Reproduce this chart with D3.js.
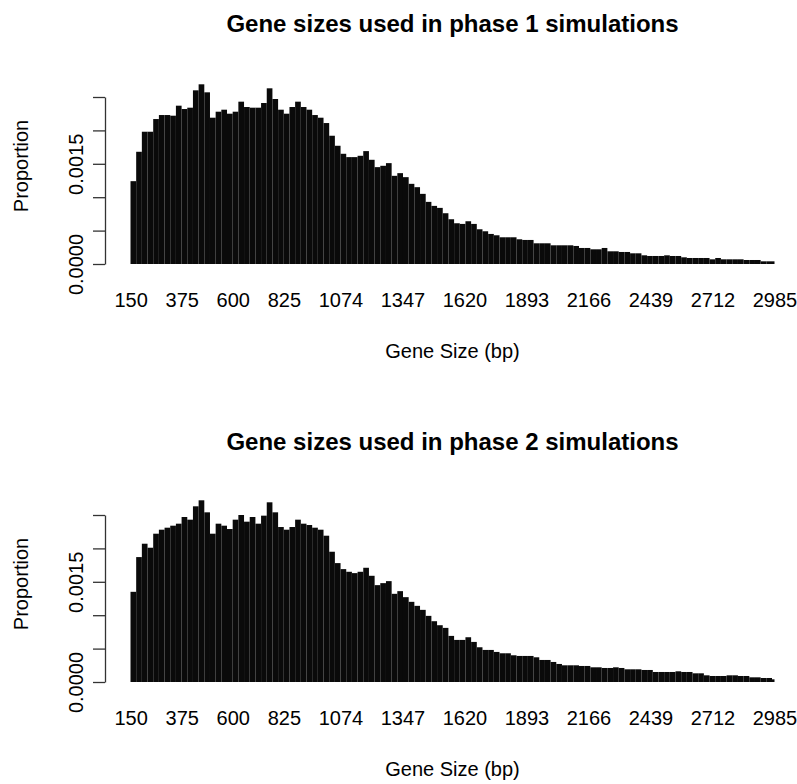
<!doctype html>
<html lang="en">
<head>
<meta charset="utf-8">
<title>Gene sizes used in phase simulations</title>
<script src="https://d3js.org/d3.v7.min.js"></script>
<style>
  body { margin: 0; background: #fff; }
  text { font-family: "Liberation Sans", Arial, Helvetica, sans-serif; fill: #000; }
</style>
</head>
<body>
<script>

var width  = 797;
var height = 784;

// gene sizes binned in 25 bp steps, starting at 150 bp (last bin 2975-2985)
var binStart = 150;
var binWidth = 25;
var lastSize = 2985;

var phase1 = [
  0.00124,0.00168,0.00198,0.00198,0.00217,0.00223,0.00223,0.00222,0.00237,0.00232,
  0.00234,0.00260,0.00269,0.00257,0.00219,0.00228,0.00231,0.00225,0.00228,0.00243,
  0.00235,0.00234,0.00234,0.00241,0.00263,0.00247,0.00231,0.00225,0.00235,0.00243,
  0.00235,0.00231,0.00223,0.00219,0.00211,0.00192,0.00177,0.00165,
  0.00160,0.00160,0.00162,0.00169,0.00156,0.00145,0.00147,0.00151,0.00132,0.00136,
  0.00130,0.00120,0.00115,0.00105,0.00093,0.00087,0.00084,0.00076,0.00067,0.00061,
  0.00060,0.00064,0.00060,0.00052,0.00049,0.00045,0.00043,0.00040,0.00040,0.00040,
  0.00037,0.00036,0.00036,0.00031,0.00031,0.00031,0.00028,
  0.00028,0.00028,0.00028,0.00027,0.00024,0.00024,0.00022,0.00022,0.00024,0.00019,
  0.00019,0.00018,0.00018,0.00016,0.00016,0.00013,0.00012,0.00012,0.00012,0.00013,
  0.00012,0.00012,0.00010,0.00009,0.00009,0.00009,0.00009,0.00007,0.00009,0.00007,
  0.00007,0.00007,0.00007,0.00006,0.00006,0.00006,0.00004,0.00004,0.00004
];

var phase2 = [
  0.00135,0.00187,0.00207,0.00201,0.00222,0.00228,0.00231,0.00234,0.00237,0.00247,
  0.00243,0.00263,0.00272,0.00254,0.00222,0.00237,0.00234,0.00229,0.00243,0.00250,
  0.00240,0.00247,0.00237,0.00249,0.00269,0.00254,0.00232,0.00228,0.00232,0.00243,
  0.00237,0.00235,0.00231,0.00228,0.00219,0.00195,0.00178,0.00169,
  0.00165,0.00163,0.00165,0.00171,0.00159,0.00145,0.00148,0.00151,0.00132,0.00136,
  0.00127,0.00120,0.00114,0.00108,0.00099,0.00091,0.00085,0.00081,0.00069,0.00063,
  0.00063,0.00067,0.00060,0.00052,0.00048,0.00048,0.00045,0.00043,0.00043,0.00040,
  0.00039,0.00039,0.00039,0.00037,0.00033,0.00033,0.00030,
  0.00027,0.00025,0.00025,0.00025,0.00024,0.00024,0.00022,0.00022,0.00021,0.00021,
  0.00022,0.00021,0.00019,0.00019,0.00019,0.00018,0.00018,0.00015,0.00015,0.00015,
  0.00015,0.00016,0.00015,0.00015,0.00013,0.00013,0.00010,0.00009,0.00009,0.00009,
  0.00010,0.00010,0.00009,0.00009,0.00007,0.00007,0.00006,0.00006,0.00004
];

var titles = ["Gene sizes used in phase 1 simulations", "Gene sizes used in phase 2 simulations"];
var xTickLabels = [150, 375, 600, 825, 1074, 1347, 1620, 1893, 2166, 2439, 2712, 2985];
var yTicks = [0, 0.0005, 0.001, 0.0015, 0.002, 0.0025];
var yLabelled = [0, 0.0015];

var svg = d3.select("body")
    .append("svg")
    .attr("width", width)
    .attr("height", height);

var x = d3.scaleLinear()
    .domain([binStart - 0.5, lastSize + 0.5])
    .range([130.5, 774.5]);

function panel(values, title, top) {
    var base = top + 264;
    var y = d3.scaleLinear()
        .domain([0, 0.0025])
        .range([base, base - 167]);

    var g = svg.append("g");

    g.selectAll("rect")
        .data(values)
        .enter()
        .append("rect")
        .attr("x", (d,i)=>x(binStart + i*binWidth - 0.5))
        .attr("width", (d,i)=>x(Math.min(binStart + (i+1)*binWidth, lastSize + 1) - 0.5) - x(binStart + i*binWidth - 0.5))
        .attr("y", d=>y(d))
        .attr("height", d=>base - y(d))
        .attr("fill", "#0a0a0a");

    // y axis, R style: only some labels, rotated
    var yAxis = g.append("g")
        .attr("transform", "translate(105,0)")
        .call(d3.axisLeft(y)
            .tickValues(yTicks)
            .tickSize(12)
            .tickSizeOuter(0)
            .tickFormat(d => yLabelled.includes(d) ? d3.format(".4f")(d) : ""));
    yAxis.selectAll("path, line").attr("stroke", "#333").attr("stroke-width", 1.3);
    yAxis.selectAll("text")
        .attr("x", 0)
        .attr("dy", 0)
        .attr("text-anchor", "middle")
        .attr("font-size", 20)
        .attr("transform", "translate(-22,0) rotate(-90)");

    var xAxis = g.append("g")
        .attr("transform", "translate(0," + base + ")")
        .call(d3.axisBottom(x)
            .tickValues(xTickLabels)
            .tickSize(0)
            .tickPadding(29)
            .tickFormat(d3.format("d")));
    xAxis.select(".domain").remove();
    xAxis.selectAll("text").attr("font-size", 20);

    g.append("text")
        .attr("x", 452.5)
        .attr("y", top + 32)
        .attr("text-anchor", "middle")
        .attr("font-size", 24)
        .attr("font-weight", "bold")
        .text(title);

    g.append("text")
        .attr("x", 452.5)
        .attr("y", top + 358)
        .attr("text-anchor", "middle")
        .attr("font-size", 20)
        .text("Gene Size (bp)");

    g.append("text")
        .attr("transform", "translate(28," + (top + 166) + ") rotate(-90)")
        .attr("text-anchor", "middle")
        .attr("font-size", 20)
        .text("Proportion");
}

panel(phase1, titles[0], 0);
panel(phase2, titles[1], 418);

</script>
</body>
</html>
